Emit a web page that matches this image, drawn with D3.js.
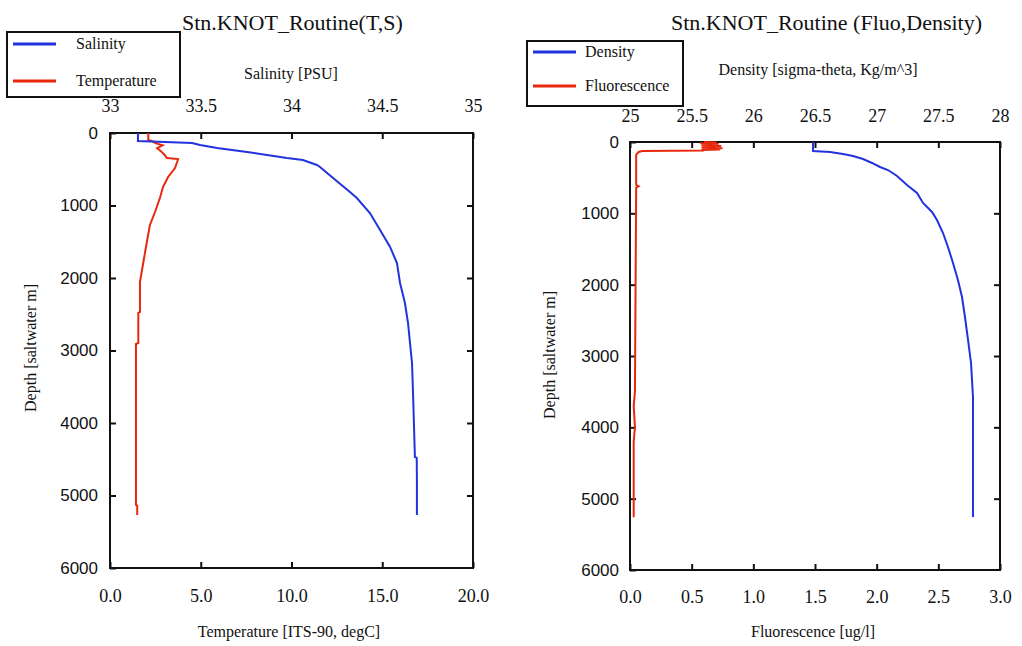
<!DOCTYPE html>
<html>
<head>
<meta charset="utf-8">
<script src="https://cdn.jsdelivr.net/npm/d3@7"></script>
<style>
  body { margin: 0; background: #fff; }
  svg { display: block; font-family: "Liberation Serif", "Times New Roman", serif; }
</style>
</head>
<body>
<div id="chart"></div>
<script>
// depth (m) and values
const salDepth = [0, 110, 138, 165, 207, 262, 303, 345, 372, 441, 469, 621, 814, 897, 1103, 1338, 1572, 1793, 2069, 2345, 2621, 2897, 3172, 3545, 4469, 4480, 4828, 5269];
const salinity = [33.154, 33.154, 33.452, 33.496, 33.59, 33.755, 33.865, 33.975, 34.063, 34.14, 34.157, 34.229, 34.322, 34.36, 34.432, 34.488, 34.543, 34.581, 34.598, 34.625, 34.642, 34.653, 34.664, 34.669, 34.68, 34.69, 34.691, 34.691];

const tempDepth = [0, 97, 110, 140, 170, 210, 250, 300, 345, 360, 400, 483, 607, 745, 897, 1090, 1269, 1503, 1779, 2055, 2469, 2480, 2897, 2910, 5131, 5140, 5269];
const temperature = [2.11, 2.11, 2.3, 2.5, 2.9, 2.6, 2.8, 3.0, 3.14, 3.75, 3.7, 3.58, 3.2, 2.92, 2.75, 2.48, 2.2, 2.03, 1.84, 1.65, 1.65, 1.56, 1.56, 1.43, 1.43, 1.5, 1.5];

const densDepth = [0, 126, 140, 168, 196, 238, 294, 350, 393, 477, 603, 715, 855, 981, 1094, 1276, 1472, 1696, 1935, 2173, 2453, 2776, 3098, 3575, 4781, 5257];
const density = [26.484, 26.484, 26.622, 26.727, 26.808, 26.889, 26.962, 27.027, 27.092, 27.165, 27.246, 27.327, 27.376, 27.449, 27.489, 27.538, 27.578, 27.619, 27.659, 27.692, 27.716, 27.741, 27.765, 27.781, 27.781, 27.781];

const fluoDepth = [0, 8, 16, 24, 32, 40, 48, 56, 64, 72, 80, 88, 96, 104, 112, 120, 126, 140, 182, 600, 620, 640, 3500, 3700, 4000, 4200, 5260];
const fluorescence = [0.6, 0.7, 0.57, 0.72, 0.6, 0.66, 0.58, 0.74, 0.62, 0.7, 0.58, 0.75, 0.62, 0.73, 0.58, 0.6, 0.1, 0.07, 0.05, 0.05, 0.07, 0.05, 0.04, 0.03, 0.04, 0.03, 0.03];

const depthTicks = [0, 1000, 2000, 3000, 4000, 5000, 6000];
const salTicks = [33, 33.5, 34, 34.5, 35];
const tempTicks = [0, 5, 10, 15, 20];
const densTicks = [25, 25.5, 26, 26.5, 27, 27.5, 28];
const fluoTicks = [0, 0.5, 1, 1.5, 2, 2.5, 3];

const blue = '#2233dd';
const red = '#e8280c';

const svg = d3.select('#chart').append('svg').attr('width', 1022).attr('height', 646);

function zip(depths, values) {
  return depths.map((d, i) => ({depth: d, value: values[i]}));
}

function styleAxis(sel, family, size) {
  sel.attr('font-family', null).attr('font-size', null);
  sel.select('.domain').remove();
  sel.selectAll('.tick line').attr('stroke', '#111').attr('stroke-width', 2);
  sel.selectAll('.tick text')
    .attr('font-family', family)
    .attr('font-size', size)
    .attr('fill', '#111');
}

function drawPanel(p) {
  const g = svg.append('g');
  const y = d3.scaleLinear().domain([0, 6000]).range([p.y0, p.y1]);
  const xTop = d3.scaleLinear().domain(p.topDomain).range([p.x0, p.x1]);
  const xBot = d3.scaleLinear().domain(p.botDomain).range([p.x0, p.x1]);
  const serif = 'Liberation Serif';

  // axes, ticks pointing inward
  g.append('g').attr('transform', 'translate(' + p.x0 + ',0)')
    .call(d3.axisLeft(y).tickValues(depthTicks).tickSize(-6).tickPadding(p.leftPad).tickFormat(d3.format('d')))
    .call(styleAxis, 'Liberation Sans', 17);
  g.append('g').attr('transform', 'translate(' + p.x1 + ',0)')
    .call(d3.axisRight(y).tickValues(depthTicks.slice(1, -1)).tickSize(-6).tickFormat(''))
    .call(styleAxis, serif, 17);
  g.append('g').attr('transform', 'translate(0,' + p.y0 + ')')
    .call(d3.axisTop(xTop).tickValues(p.topTicks).tickSize(-6).tickPadding(p.topPad).tickFormat(d3.format('~g')))
    .call(styleAxis, serif, 18);
  g.append('g').attr('transform', 'translate(0,' + p.y1 + ')')
    .call(d3.axisBottom(xBot).tickValues(p.botTicks).tickSize(-6).tickPadding(p.botPad).tickFormat(d3.format('.1f')))
    .call(styleAxis, serif, 18);

  g.append('rect')
    .attr('x', p.x0).attr('y', p.y0)
    .attr('width', p.x1 - p.x0).attr('height', p.y1 - p.y0)
    .attr('fill', 'none').attr('stroke', '#111').attr('stroke-width', 2);

  // profiles
  const lineTop = d3.line().x(d => xTop(d.value)).y(d => y(d.depth));
  const lineBot = d3.line().x(d => xBot(d.value)).y(d => y(d.depth));
  g.append('path').datum(p.botData).attr('d', lineBot)
    .attr('fill', 'none').attr('stroke', red).attr('stroke-width', 2);
  g.append('path').datum(p.topData).attr('d', lineTop)
    .attr('fill', 'none').attr('stroke', blue).attr('stroke-width', 2);

  // titles and labels
  svg.append('text').attr('x', p.titleX).attr('y', 30).attr('font-size', 22).attr('fill', '#111').text(p.title);
  svg.append('text').attr('x', p.topLabelX).attr('y', p.topLabelY).attr('text-anchor', 'middle')
    .attr('font-size', 16).attr('fill', '#111').text(p.topLabel);
  svg.append('text').attr('x', p.botLabelX).attr('y', 637).attr('text-anchor', 'middle')
    .attr('font-size', 16).attr('fill', '#111').text(p.botLabel);
  svg.append('text').attr('transform', 'translate(' + p.depthLabelX + ',' + p.depthLabelY + ') rotate(-90)')
    .attr('text-anchor', 'middle').attr('font-size', 16).attr('fill', '#111').text('Depth [saltwater m]');

  // legend
  const lg = svg.append('g');
  lg.append('rect').attr('x', p.legend.x).attr('y', p.legend.y).attr('width', p.legend.w).attr('height', p.legend.h)
    .attr('fill', '#fff').attr('stroke', '#111').attr('stroke-width', 2);
  p.legend.items.forEach((it, i) => {
    const ly = p.legend.rows[i];
    lg.append('line').attr('x1', p.legend.x + 6).attr('x2', p.legend.x + 49).attr('y1', ly).attr('y2', ly)
      .attr('stroke', it.color).attr('stroke-width', 3);
    lg.append('text').attr('x', p.legend.textX).attr('y', ly + 5).attr('font-size', 16).attr('fill', '#111').text(it.name);
  });
}

drawPanel({
  x0: 110, x1: 473, y0: 133, y1: 568,
  topDomain: [33, 35], topTicks: salTicks, topPad: 21,
  botDomain: [0, 20], botTicks: tempTicks, botPad: 21,
  leftPad: 12,
  topData: zip(salDepth, salinity), botData: zip(tempDepth, temperature),
  title: 'Stn.KNOT_Routine(T,S)', titleX: 182,
  topLabel: 'Salinity [PSU]', topLabelX: 291, topLabelY: 79,
  botLabel: 'Temperature [ITS-90, degC]', botLabelX: 289,
  depthLabelX: 36, depthLabelY: 348,
  legend: {x: 7, y: 32, w: 173, h: 65, textX: 76, rows: [44, 81],
    items: [{name: 'Salinity', color: blue}, {name: 'Temperature', color: red}]}
});

drawPanel({
  x0: 630, x1: 1000, y0: 142, y1: 570,
  topDomain: [25, 28], topTicks: densTicks, topPad: 20,
  botDomain: [0, 3], botTicks: fluoTicks, botPad: 20,
  leftPad: 11,
  topData: zip(densDepth, density), botData: zip(fluoDepth, fluorescence),
  title: 'Stn.KNOT_Routine (Fluo,Density)', titleX: 671,
  topLabel: 'Density [sigma-theta, Kg/m^3]', topLabelX: 818, topLabelY: 75,
  botLabel: 'Fluorescence [ug/l]', botLabelX: 813,
  depthLabelX: 555, depthLabelY: 355,
  legend: {x: 527, y: 41, w: 156, h: 65, textX: 585, rows: [52, 86],
    items: [{name: 'Density', color: blue}, {name: 'Fluorescence', color: red}]}
});
</script>
</body>
</html>
